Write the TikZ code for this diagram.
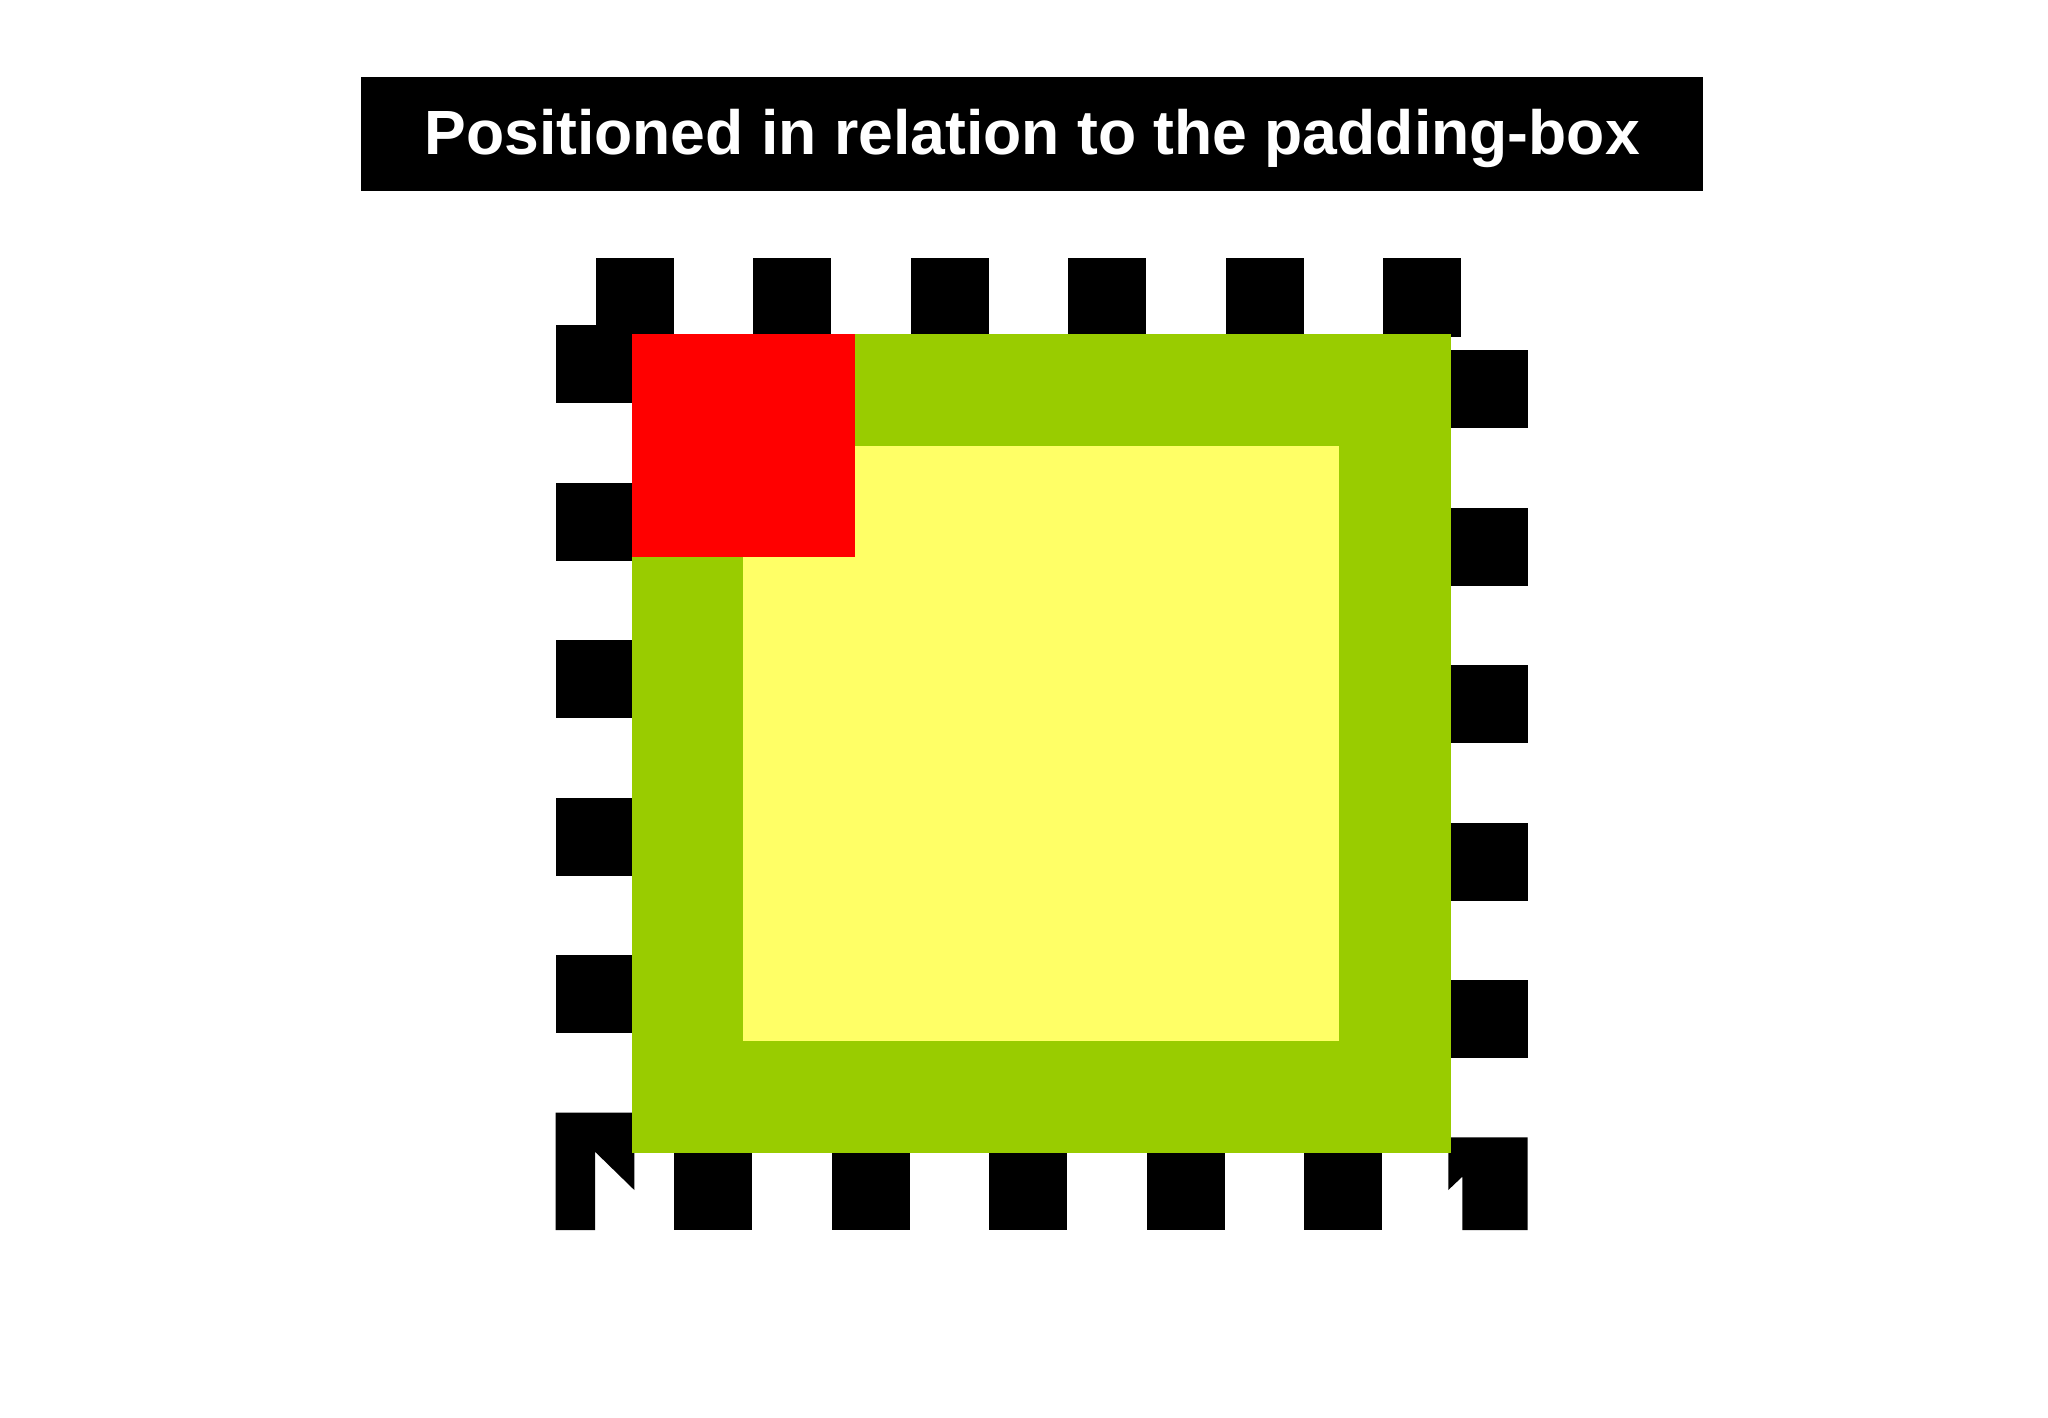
\documentclass[tikz,border=0pt]{standalone}
\usepackage{fontspec}
\setmainfont{Liberation Sans}
\definecolor{padgreen}{HTML}{99CC00}
\definecolor{contyellow}{HTML}{FFFF66}
\definecolor{posred}{HTML}{FF0000}
\begin{document}
\begin{tikzpicture}[x=1pt,y=-1pt,
  dashpiece/.style={fill=black},
  titlebar/.style={fill=black},
  titletext/.style={text=white,font=\fontsize{62.5}{70}\selectfont\bfseries,inner sep=0pt,anchor=base}]
\useasboundingbox[fill=white] (0,0) rectangle (2048,1418);
% title
\fill[titlebar] (360.5,77) rectangle (1703,190.5);
\node[titletext] (title) at (1032,154.8) {Positioned in relation to the padding-box};
% top dashes
\foreach \k in {0,...,5}{
  \fill[dashpiece] ({595.5+157.5*\k},258.3) rectangle ({673.5+157.5*\k},336.7);
}
% left dashes
\foreach \k in {0,...,4}{
  \fill[dashpiece] (555.7,{325.2+157.5*\k}) rectangle (634,{403.2+157.5*\k});
}
% right dashes
\foreach \k in {0,...,4}{
  \fill[dashpiece] (1448.3,{350+157.5*\k}) rectangle (1527.7,{428+157.5*\k});
}
% bottom dashes
\foreach \k in {0,...,4}{
  \fill[dashpiece] ({674.3+157.5*\k},1150) rectangle ({752.3+157.5*\k},1230);
}
% corner pieces
\fill[dashpiece] (555.7,1112.7) -- (634.3,1112.7) -- (634.3,1190) -- (595,1151.7) -- (595,1230) -- (555.7,1230) -- cycle;
\fill[dashpiece] (1448.3,1137.3) -- (1527.7,1137.3) -- (1527.7,1230) -- (1462.3,1230) -- (1462.3,1176.7) -- (1448.3,1190) -- cycle;
% padding box
\fill[padgreen] (631.7,334.3) rectangle (1450.7,1152.7);
% content box
\fill[contyellow] (743.3,445.7) rectangle (1339,1041);
% positioned element
\fill[posred] (631.7,334.3) rectangle (855,557.3);
\end{tikzpicture}
\end{document}
